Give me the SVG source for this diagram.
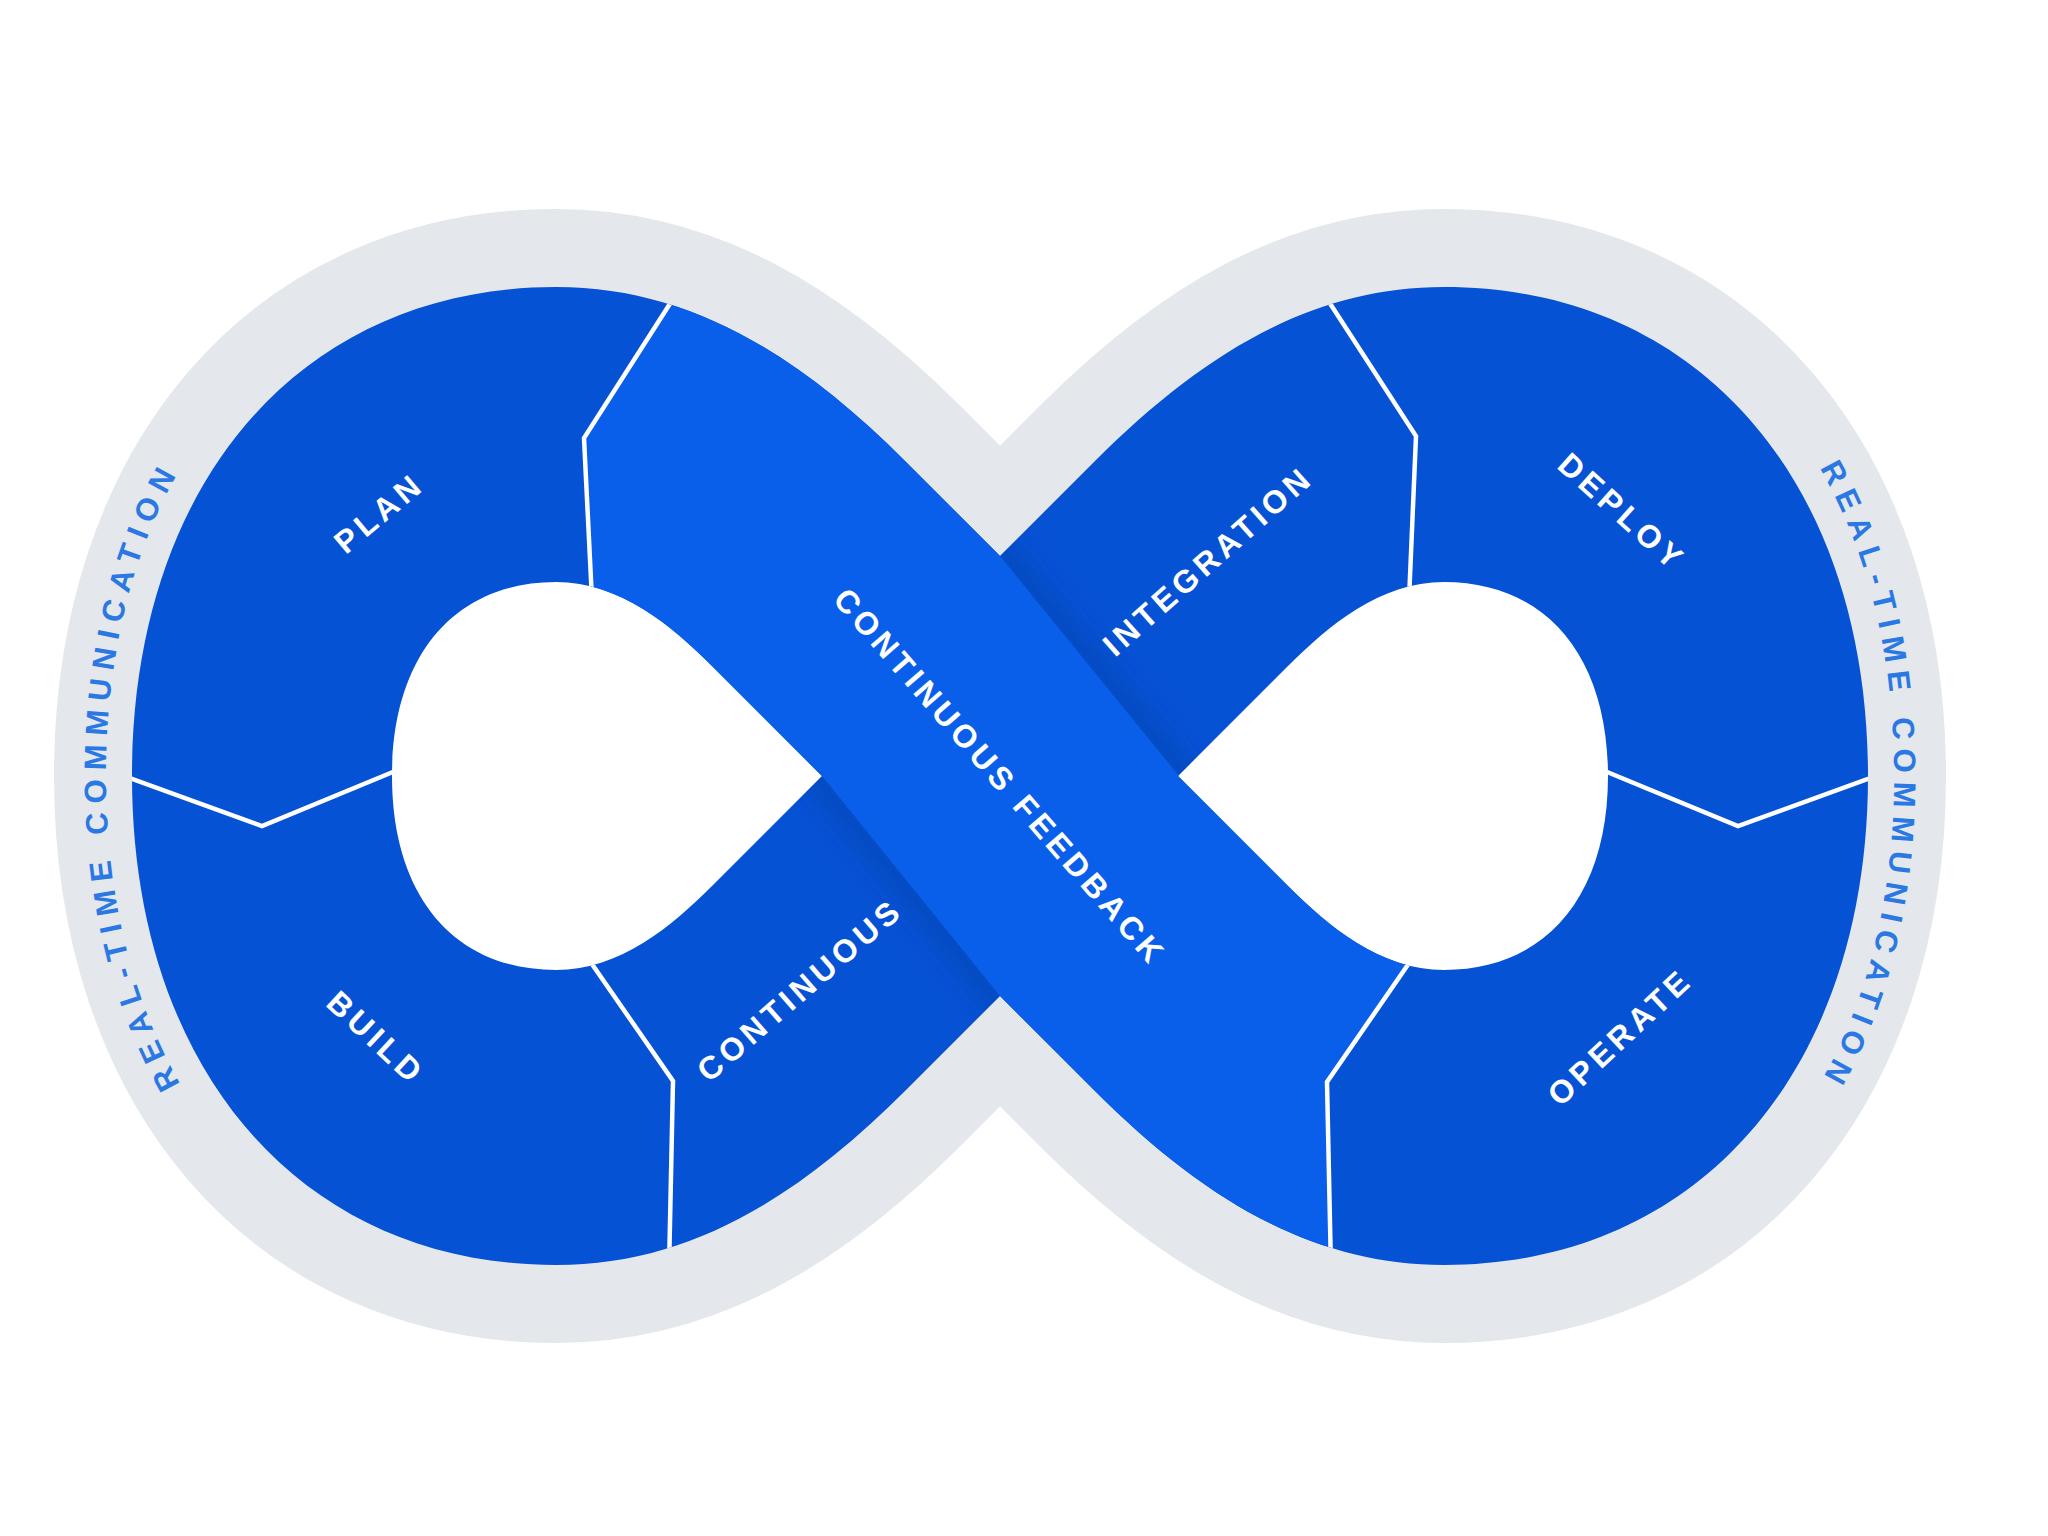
<svg xmlns="http://www.w3.org/2000/svg" xmlns:xlink="http://www.w3.org/1999/xlink" width="2048" height="1536" viewBox="0 0 2048 1536">
  <defs>
    <style>
      .lbl { font-family: "Liberation Sans", Arial, sans-serif; font-weight: 700; font-size: 32px; fill: #ffffff; letter-spacing: 4.5px; text-anchor: middle; dominant-baseline: central; }
      .ring { font-family: "Liberation Sans", Arial, sans-serif; font-weight: 700; font-size: 31px; fill: #2A78E4; letter-spacing: 8.5px; text-anchor: middle; }
      .sep { fill: none; stroke: #ffffff; stroke-width: 4.5; stroke-linejoin: miter; stroke-linecap: butt; }
    </style>
    <path id="outer" d="M 1000 556 L 1095 461 C 1205 351 1314 287 1444 287 C 1699 287 1868 483 1868 776 C 1868 1069 1699 1265 1444 1265 C 1314 1265 1205 1201 1095 1091 L 1000 996 L 905 1091 C 795 1201 686 1265 556 1265 C 301 1265 132 1069 132 776 C 132 483 301 287 556 287 C 686 287 795 351 905 461 Z"/>
    <path id="shape" fill-rule="evenodd" d="M 1000 556 L 1095 461 C 1205 351 1314 287 1444 287 C 1699 287 1868 483 1868 776 C 1868 1069 1699 1265 1444 1265 C 1314 1265 1205 1201 1095 1091 L 1000 996 L 905 1091 C 795 1201 686 1265 556 1265 C 301 1265 132 1069 132 776 C 132 483 301 287 556 287 C 686 287 795 351 905 461 Z M 822 776 L 712 666 C 672 626 620 582 556 582 C 455 582 392 655 392 776 C 392 897 455 970 556 970 C 620 970 672 926 712 886 Z M 1178 776 L 1288 666 C 1328 626 1380 582 1444 582 C 1545 582 1608 655 1608 776 C 1608 897 1545 970 1444 970 C 1380 970 1328 926 1288 886 Z"/>
    <clipPath id="clipShape">
      <path clip-rule="evenodd" d="M 1000 556 L 1095 461 C 1205 351 1314 287 1444 287 C 1699 287 1868 483 1868 776 C 1868 1069 1699 1265 1444 1265 C 1314 1265 1205 1201 1095 1091 L 1000 996 L 905 1091 C 795 1201 686 1265 556 1265 C 301 1265 132 1069 132 776 C 132 483 301 287 556 287 C 686 287 795 351 905 461 Z M 822 776 L 712 666 C 672 626 620 582 556 582 C 455 582 392 655 392 776 C 392 897 455 970 556 970 C 620 970 672 926 712 886 Z M 1178 776 L 1288 666 C 1328 626 1380 582 1444 582 C 1545 582 1608 655 1608 776 C 1608 897 1545 970 1444 970 C 1380 970 1328 926 1288 886 Z"/>
    </clipPath>
    <filter id="soft" x="-20%" y="-20%" width="140%" height="140%">
      <feGaussianBlur stdDeviation="12"/>
    </filter>
    <path id="ringLeft" d="M 556 1291 C 278 1291 106 1084 106 776 C 106 468 278 261 556 261"/>
    <path id="ringRight" d="M 1444 261 C 1722 261 1894 468 1894 776 C 1894 1084 1722 1291 1444 1291"/>
  </defs>

  <rect width="2048" height="1536" fill="#ffffff"/>

  <g id="frame">
    <use xlink:href="#outer" href="#outer" fill="none" stroke="#E4E7EB" stroke-width="156" stroke-linejoin="miter"/>
    <use xlink:href="#shape" href="#shape" fill="#0652D4"/>
  </g>

  <g id="continuous-feedback">
    <g clip-path="url(#clipShape)">
      <g filter="url(#soft)" stroke="#003C9E" stroke-width="34" stroke-opacity="0.35" fill="none">
        <line x1="960" y1="507" x2="1220" y2="826"/>
        <line x1="780" y1="725" x2="1040" y2="1045"/>
      </g>
      <polygon fill="#0A5FEA" points="594,650 584,438 680,288 700,257 900,433 1000,556 1179,776 1300,830 1430,933 1407,966 1327,1082 1331,1242 1332,1320 1100,1119 1000,996 822,776 700,700"/>
    </g>
    <text class="lbl" transform="translate(1000 777) rotate(49)">CONTINUOUS FEEDBACK</text>
  </g>

  <g id="plan">
    <text class="lbl" transform="translate(379 513) rotate(-40)">PLAN</text>
  </g>
  <g id="build">
    <text class="lbl" transform="translate(376 1038) rotate(43)">BUILD</text>
  </g>
  <g id="continuous-integration">
    <text class="lbl" transform="translate(800 990) rotate(-41)">CONTINUOUS</text>
    <text class="lbl" transform="translate(1208 561) rotate(-41.5)">INTEGRATION</text>
  </g>
  <g id="deploy">
    <text class="lbl" transform="translate(1622 512) rotate(42)">DEPLOY</text>
  </g>
  <g id="operate">
    <text class="lbl" transform="translate(1620 1037) rotate(-43)">OPERATE</text>
  </g>

  <g id="connectors" clip-path="url(#clipShape)">
    <polyline class="sep" points="680,288 584,438 592,600"/>
    <polyline class="sep" points="110,771 262,826 405,767"/>
    <polyline class="sep" points="585,954 673,1081 669,1270"/>
    <polyline class="sep" points="1320,288 1416,436 1409,600"/>
    <polyline class="sep" points="1595,767 1738,826 1890,771"/>
    <polyline class="sep" points="1416,953 1327,1082 1331,1270"/>
  </g>

  <g id="realtime-communication-left">
    <text class="ring"><textPath xlink:href="#ringLeft" href="#ringLeft" startOffset="50%">REAL-TIME COMMUNICATION</textPath></text>
  </g>
  <g id="realtime-communication-right">
    <text class="ring"><textPath xlink:href="#ringRight" href="#ringRight" startOffset="50%">REAL-TIME COMMUNICATION</textPath></text>
  </g>
</svg>
